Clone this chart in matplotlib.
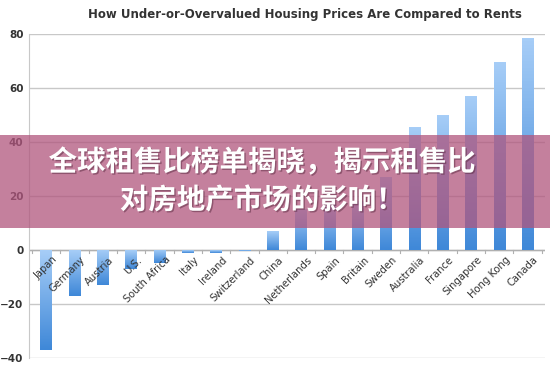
import numpy as np
import matplotlib
matplotlib.use("Agg")
import matplotlib.pyplot as plt
import matplotlib.patheffects as pe
from matplotlib.patches import Rectangle
from matplotlib.colors import LinearSegmentedColormap

countries = ['Japan', 'Germany', 'Austria', 'U.S.', 'South Africa', 'Italy',
             'Ireland', 'Switzerland', 'China', 'Netherlands', 'Spain',
             'Britain', 'Sweden', 'Australia', 'France', 'Singapore',
             'Hong Kong', 'Canada']
values = [-37, -17, -13, -7, -5, -1, -1, -0.3, 7, 15, 17, 18, 27,
          45.5, 50, 57, 69.5, 78.5]
yticks = [-40, -20, 0, 20, 40, 60, 80]

title = 'How Under-or-Overvalued Housing Prices Are Compared to Rents'
banner = '全球租售比榜单揭晓，揭示租售比\n对房地产市场的影响！'

fig = plt.figure(figsize=(5.5, 3.69), dpi=100)
ax = fig.add_axes([0.053, 0.030, 0.937, 0.878])

x = np.arange(len(countries))
bars = ax.bar(x, values, width=0.4, color='none', zorder=3)

# vertical gradient inside each bar, light on top, darker at bottom
cmap = LinearSegmentedColormap.from_list('b', ['#a6cdf7', '#3f88d8'])
grad = np.linspace(0, 1, 64).reshape(-1, 1)
for b in bars:
    x0, y0 = b.get_x(), b.get_y()
    w, h = b.get_width(), b.get_height()
    lo, hi = min(y0, y0 + h), max(y0, y0 + h)
    if hi - lo < 0.05:
        continue
    im = ax.imshow(grad, cmap=cmap, aspect='auto', origin='upper',
                   extent=[x0, x0 + w, lo, hi], zorder=3)
    im.set_clip_path(b)

ax.set_xlim(-0.6, len(countries) - 0.4)
ax.set_ylim(-40, 80)
ax.set_yticks(yticks)
ax.yaxis.grid(True, color='#c8c8c8', lw=1)
ax.set_axisbelow(True)
for s in ['top', 'right', 'bottom']:
    ax.spines[s].set_visible(False)
ax.spines['left'].set_color('#c8c8c8')
ax.axhline(0, color='#b0b0b0', lw=1, zorder=2)
ax.tick_params(axis='y', length=0, labelsize=7.5, labelcolor='#333333', pad=4)
for t in ax.get_yticklabels():
    t.set_fontweight('bold')

ax.set_xticks(x)
ax.set_xticklabels([])
ax.tick_params(axis='x', length=0)
for i, c in enumerate(countries):
    ax.text(i + 0.2, -1.8, c, rotation=45, ha='right', va='top',
            rotation_mode='anchor', fontsize=7.2, color='#333333', zorder=4)
for i in range(len(countries) + 1):
    ax.plot([i - 0.5, i - 0.5], [0, -1.2], color='#b0b0b0', lw=0.8, zorder=2)

fig.text(0.555, 0.962, title, ha='center', va='center', fontsize=8.5,
         fontweight='bold', color='#333333')

fig.patches.append(Rectangle((0, 0.382), 1, 0.252, transform=fig.transFigure,
                             facecolor=(176/255, 85/255, 125/255), alpha=0.75,
                             zorder=10))
fig.text(0.477, 0.508, banner, ha='center', va='center', fontsize=20.5,
         fontweight='bold', color='white', linespacing=1.45, zorder=11,
         family=['Noto Sans CJK SC', 'DejaVu Sans'],
         path_effects=[pe.withSimplePatchShadow(offset=(1, -1),
                                                shadow_rgbFace='#5a2a40',
                                                alpha=0.5)])

fig.savefig('out.png', dpi=100)
